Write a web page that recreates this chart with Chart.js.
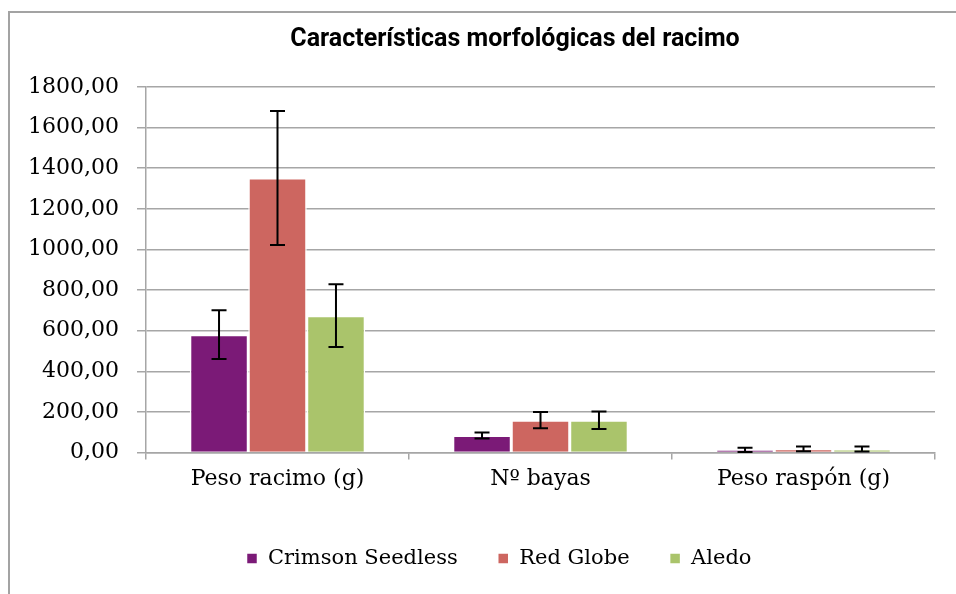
<!DOCTYPE html>
<html>
<head>
<meta charset="utf-8">
<script src="https://cdn.jsdelivr.net/npm/chart.js@4/dist/chart.umd.min.js"></script>
<style>
  html, body { margin: 0; padding: 0; width: 956px; height: 594px; overflow: hidden; background: #fff; }
  .frame {
    position: absolute; left: 8px; top: 11px;
    width: 1100px; height: 700px;
    border: 2px solid #a3a3a3;
  }
  .chart-box { position: absolute; left: 0; top: 0; width: 1010px; height: 566px; }
</style>
</head>
<body>
<div class="frame">
  <div class="chart-box"><canvas id="racimo-chart"></canvas></div>
</div>
<script>
const categories = ['Peso racimo (g)', 'Nº bayas', 'Peso raspón (g)'];
const seriesNames = ['Crimson Seedless', 'Red Globe', 'Aledo'];
const crimsonValues = [580, 84, 13];
const redGlobeValues = [1352, 159, 18];
const aledoValues = [674, 159, 17];
const crimsonErrors = [120, 15, 11];
const redGlobeErrors = [330, 40, 12];
const aledoErrors = [155, 43, 12];
const yTicks = [0, 200, 400, 600, 800, 1000, 1200, 1400, 1600, 1800];

const colors = ['#7b1a77', '#cd6660', '#aac46b'];
const serif = '"DejaVu Serif", serif';

// error bars drawn from the y scale for each bar
const errorBars = {
  id: 'errorBars',
  afterDatasetsDraw(chart) {
    const ctx = chart.ctx;
    const y = chart.scales.y;
    ctx.save();
    ctx.strokeStyle = '#000';
    ctx.lineWidth = 2;
    chart.data.datasets.forEach((ds, di) => {
      const meta = chart.getDatasetMeta(di);
      meta.data.forEach((bar, i) => {
        const v = ds.data[i];
        const e = ds.errors[i];
        const top = y.getPixelForValue(v + e);
        const bot = y.getPixelForValue(v - e);
        const cap = 7.5;
        ctx.beginPath();
        ctx.moveTo(bar.x, top); ctx.lineTo(bar.x, bot);
        ctx.moveTo(bar.x - cap, top); ctx.lineTo(bar.x + cap, top);
        ctx.moveTo(bar.x - cap, bot); ctx.lineTo(bar.x + cap, bot);
        ctx.stroke();
      });
    });
    ctx.restore();
  }
};

// legend sits a bit left of the title centre in the original
const legendShift = {
  id: 'legendShift',
  afterLayout(chart) {
    chart.legend.left -= 16;
    chart.legend.right -= 16;
  }
};

const makeSet = (label, data, errors, color) => ({
  label, data, errors,
  backgroundColor: color,
  borderColor: '#ffffff',
  borderWidth: 1.5,
  categoryPercentage: 0.667,
  barPercentage: 1.0
});

new Chart(document.getElementById('racimo-chart'), {
  type: 'bar',
  data: {
    labels: categories,
    datasets: [
      makeSet(seriesNames[0], crimsonValues, crimsonErrors, colors[0]),
      makeSet(seriesNames[1], redGlobeValues, redGlobeErrors, colors[1]),
      makeSet(seriesNames[2], aledoValues, aledoErrors, colors[2])
    ]
  },
  options: {
    responsive: true,
    maintainAspectRatio: false,
    animation: false,
    layout: { padding: 0 },
    plugins: {
      title: {
        display: true,
        text: 'Características morfológicas del racimo',
        color: '#000',
        font: { family: 'Roboto, sans-serif', size: 25, weight: 'bold' },
        padding: { top: 12, bottom: 32 }
      },
      legend: {
        position: 'bottom',
        labels: {
          color: '#000',
          font: { family: serif, size: 21 },
          boxWidth: 11,
          boxHeight: 11,
          padding: 40
        }
      },
      tooltip: { enabled: false }
    },
    scales: {
      x: {
        offset: true,
        grid: { display: true, drawOnChartArea: false, drawTicks: true, tickLength: 7, color: '#a6a6a6', lineWidth: 1.5 },
        border: { color: '#a6a6a6', width: 1.5 },
        ticks: { color: '#000', font: { family: serif, size: 22 }, padding: 7 },
        afterFit(scale) { scale.height = 55.5; }
      },
      y: {
        min: 0,
        max: 1800,
        afterBuildTicks(scale) { scale.ticks = yTicks.map(v => ({ value: v })); },
        grid: { color: '#a6a6a6', lineWidth: 1.5, tickLength: 9 },
        border: { color: '#a6a6a6', width: 1.5 },
        ticks: {
          color: '#000',
          font: { family: serif, size: 22 },
          padding: 18,
          callback: v => v.toFixed(2).replace('.', ',')
        },
        afterFit(scale) { scale.width = 136; }
      },
      y2: {
        position: 'right',
        display: true,
        grid: { display: false },
        border: { display: false },
        ticks: { display: false },
        afterFit(scale) { scale.width = 85; }
      }
    }
  },
  plugins: [errorBars, legendShift]
});
</script>
</body>
</html>
